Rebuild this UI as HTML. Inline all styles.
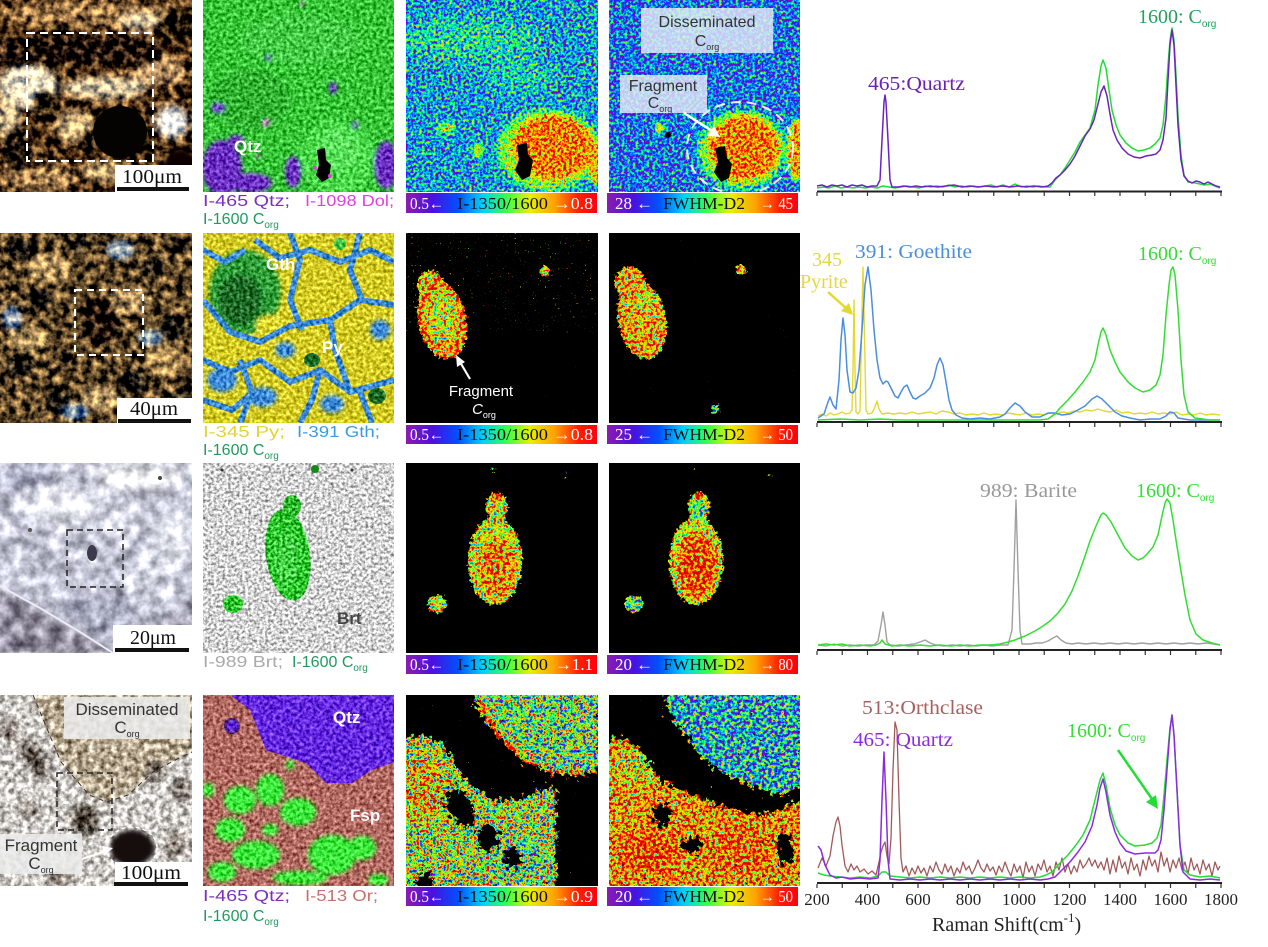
<!DOCTYPE html>
<html><head><meta charset="utf-8"><title>Raman maps</title>
<style>html,body{margin:0;padding:0;background:#fff;width:1268px;height:947px;overflow:hidden}svg{display:block}</style>
</head><body>
<svg width="1268" height="947" viewBox="0 0 1268 947" xmlns="http://www.w3.org/2000/svg">
<defs>
 <clipPath id="c11"><rect x="0" y="0" width="192" height="192"/></clipPath>
 <clipPath id="c12"><rect x="203" y="0" width="191" height="192"/></clipPath>
 <clipPath id="c13"><rect x="406" y="0" width="192" height="192"/></clipPath>
 <clipPath id="c14"><rect x="609" y="0" width="191" height="192"/></clipPath>
 <clipPath id="c21"><rect x="0" y="233" width="192" height="190"/></clipPath>
 <clipPath id="c22"><rect x="203" y="233" width="191" height="190"/></clipPath>
 <clipPath id="c23"><rect x="406" y="233" width="192" height="190"/></clipPath>
 <clipPath id="c24"><rect x="609" y="233" width="191" height="190"/></clipPath>
 <clipPath id="c31"><rect x="0" y="463" width="192" height="190"/></clipPath>
 <clipPath id="c32"><rect x="203" y="463" width="191" height="190"/></clipPath>
 <clipPath id="c33"><rect x="406" y="463" width="192" height="190"/></clipPath>
 <clipPath id="c34"><rect x="609" y="463" width="191" height="190"/></clipPath>
 <clipPath id="c41"><rect x="0" y="695" width="192" height="191"/></clipPath>
 <clipPath id="c42"><rect x="203" y="695" width="191" height="191"/></clipPath>
 <clipPath id="c43"><rect x="406" y="695" width="192" height="191"/></clipPath>
 <clipPath id="c44"><rect x="609" y="695" width="191" height="191"/></clipPath>

 <linearGradient id="cb" x1="0" y1="0" x2="1" y2="0">
  <stop offset="0" stop-color="#8a1cb0"/>
  <stop offset="0.14" stop-color="#4a10e0"/>
  <stop offset="0.27" stop-color="#0050ff"/>
  <stop offset="0.4" stop-color="#00d0ff"/>
  <stop offset="0.52" stop-color="#30ff50"/>
  <stop offset="0.65" stop-color="#e8f000"/>
  <stop offset="0.78" stop-color="#ffa000"/>
  <stop offset="0.9" stop-color="#ff2000"/>
  <stop offset="1" stop-color="#ff0010"/>
 </linearGradient>

 <filter id="b2" x="-50%" y="-50%" width="200%" height="200%"><feGaussianBlur stdDeviation="2"/></filter>
 <filter id="b4" x="-50%" y="-50%" width="200%" height="200%"><feGaussianBlur stdDeviation="4"/></filter>
 <filter id="b7" x="-50%" y="-50%" width="200%" height="200%"><feGaussianBlur stdDeviation="7"/></filter>

 <filter id="motBr" x="0" y="0" width="1" height="1" color-interpolation-filters="sRGB">
  <feTurbulence type="fractalNoise" baseFrequency="0.13" numOctaves="3" seed="3" result="n"/>
  <feColorMatrix in="n" type="matrix" values="1 0 0 0 0  0.8 0 0 0 0.1  0.5 0 0 0 0.25  0 0 0 0 1" result="g"/>
  <feComposite in="SourceGraphic" in2="g" operator="arithmetic" k1="0" k2="1" k3="1.9" k4="-0.95"/>
 </filter>
 <filter id="motB" x="0" y="0" width="1" height="1" color-interpolation-filters="sRGB">
  <feTurbulence type="fractalNoise" baseFrequency="0.3" numOctaves="2" seed="5" result="n"/>
  <feColorMatrix in="n" type="matrix" values="1 0 0 0 0  1 0 0 0 0  1 0 0 0 0  0 0 0 0 1" result="g"/>
  <feComposite in="SourceGraphic" in2="g" operator="arithmetic" k1="0" k2="1" k3="0.9" k4="-0.45"/>
 </filter>
 <filter id="motC" x="0" y="0" width="1" height="1" color-interpolation-filters="sRGB">
  <feTurbulence type="fractalNoise" baseFrequency="0.08" numOctaves="4" seed="8" result="n"/>
  <feColorMatrix in="n" type="matrix" values="1 0 0 0 0  1 0 0 0 0  1 0 0 0 0  0 0 0 0 1" result="g"/>
  <feComposite in="SourceGraphic" in2="g" operator="arithmetic" k1="0" k2="1" k3="0.9" k4="-0.45"/>
 </filter>
 <filter id="motD" x="0" y="0" width="1" height="1" color-interpolation-filters="sRGB">
  <feTurbulence type="fractalNoise" baseFrequency="0.35" numOctaves="2" seed="11" result="n"/>
  <feColorMatrix in="n" type="matrix" values="1 0 0 0 0  1 0 0 0 0  1 0 0 0 0  0 0 0 0 1" result="g"/>
  <feComposite in="SourceGraphic" in2="g" operator="arithmetic" k1="0" k2="1" k3="1.3" k4="-0.65"/>
 </filter>
 <filter id="motE" x="0" y="0" width="1" height="1" color-interpolation-filters="sRGB">
  <feTurbulence type="fractalNoise" baseFrequency="0.18" numOctaves="3" seed="14" result="n"/>
  <feColorMatrix in="n" type="matrix" values="1 0 0 0 0  1 0 0 0 0  1 0 0 0 0  0 0 0 0 1" result="g"/>
  <feComposite in="SourceGraphic" in2="g" operator="arithmetic" k1="0" k2="1" k3="1.3" k4="-0.65"/>
 </filter>

 <filter id="rbA" x="0" y="0" width="1" height="1" color-interpolation-filters="sRGB">
  <feTurbulence type="fractalNoise" baseFrequency="0.36" numOctaves="2" seed="4" result="n"/>
  <feColorMatrix in="n" type="matrix" values="1 0 0 0 0  1 0 0 0 0  1 0 0 0 0  0 0 0 0 1" result="g"/>
  <feComposite in="SourceGraphic" in2="g" operator="arithmetic" k1="0" k2="1" k3="1.2" k4="-0.6" result="v"/>
  <feComponentTransfer in="v">
   <feFuncR type="table" tableValues="0.55 0.1 0 0 0.4 1 1 1 0.85"/>
   <feFuncG type="table" tableValues="0 0.1 0.6 1 1 1 0.55 0.1 0"/>
   <feFuncB type="table" tableValues="0.75 1 1 0.6 0.05 0 0 0 0"/>
   <feFuncA type="linear" slope="0" intercept="1"/>
  </feComponentTransfer>
 </filter>
 <filter id="rbC" x="0" y="0" width="1" height="1" color-interpolation-filters="sRGB">
  <feTurbulence type="fractalNoise" baseFrequency="0.32" numOctaves="2" seed="12" result="n"/>
  <feColorMatrix in="n" type="matrix" values="1 0 0 0 0  1 0 0 0 0  1 0 0 0 0  0 0 0 0 1" result="g"/>
  <feComposite in="SourceGraphic" in2="g" operator="arithmetic" k1="0" k2="1" k3="1.6" k4="-0.8" result="v"/>
  <feComponentTransfer in="v">
   <feFuncR type="table" tableValues="0.55 0.1 0 0 0.4 1 1 1 0.85"/>
   <feFuncG type="table" tableValues="0 0.1 0.6 1 1 1 0.55 0.1 0"/>
   <feFuncB type="table" tableValues="0.75 1 1 0.6 0.05 0 0 0 0"/>
   <feFuncA type="linear" slope="0" intercept="1"/>
  </feComponentTransfer>
 </filter>
 <filter id="rbB" x="0" y="0" width="1" height="1" color-interpolation-filters="sRGB">
  <feTurbulence type="fractalNoise" baseFrequency="0.3" numOctaves="3" seed="6" result="n"/>
  <feColorMatrix in="n" type="matrix" values="1 0 0 0 0  1 0 0 0 0  1 0 0 0 0  0 0 0 0 1" result="g"/>
  <feComposite in="SourceGraphic" in2="g" operator="arithmetic" k1="0" k2="1" k3="2.0" k4="-1.0" result="v"/>
  <feComponentTransfer in="v">
   <feFuncR type="table" tableValues="0.55 0.1 0 0 0.4 1 1 1 0.85"/>
   <feFuncG type="table" tableValues="0 0.1 0.6 1 1 1 0.55 0.1 0"/>
   <feFuncB type="table" tableValues="0.75 1 1 0.6 0.05 0 0 0 0"/>
   <feFuncA type="linear" slope="0" intercept="1"/>
  </feComponentTransfer>
 </filter>

 <filter id="rag" x="0" y="0" width="1" height="1" color-interpolation-filters="sRGB">
  <feGaussianBlur in="SourceGraphic" stdDeviation="3" result="b"/>
  <feTurbulence type="fractalNoise" baseFrequency="0.35" numOctaves="2" seed="9" result="n"/>
  <feColorMatrix in="n" type="matrix" values="1 0 0 0 0  1 0 0 0 0  1 0 0 0 0  0 0 0 0 1" result="g"/>
  <feComposite in="b" in2="g" operator="arithmetic" k1="0" k2="1" k3="1" k4="-0.5" result="c"/>
  <feComponentTransfer in="c">
   <feFuncR type="discrete" tableValues="0 1"/>
   <feFuncG type="discrete" tableValues="0 1"/>
   <feFuncB type="discrete" tableValues="0 1"/>
   <feFuncA type="linear" slope="0" intercept="1"/>
  </feComponentTransfer>
 </filter>
 <filter id="rag2" x="0" y="0" width="1" height="1" color-interpolation-filters="sRGB">
  <feGaussianBlur in="SourceGraphic" stdDeviation="5" result="b"/>
  <feTurbulence type="fractalNoise" baseFrequency="0.2" numOctaves="3" seed="19" result="n"/>
  <feColorMatrix in="n" type="matrix" values="1 0 0 0 0  1 0 0 0 0  1 0 0 0 0  0 0 0 0 1" result="g"/>
  <feComposite in="b" in2="g" operator="arithmetic" k1="0" k2="1" k3="1.4" k4="-0.7" result="c"/>
  <feComponentTransfer in="c">
   <feFuncR type="discrete" tableValues="0 1"/>
   <feFuncG type="discrete" tableValues="0 1"/>
   <feFuncB type="discrete" tableValues="0 1"/>
   <feFuncA type="linear" slope="0" intercept="1"/>
  </feComponentTransfer>
 </filter>
 <filter id="dots" x="0" y="0" width="1" height="1" color-interpolation-filters="sRGB">
  <feTurbulence type="fractalNoise" baseFrequency="0.6" numOctaves="1" seed="21"/>
  <feColorMatrix type="matrix" values="0 0 0 0 1  0 0 0 0 1  0 0 0 0 1  14 0 0 0 -9.8"/>
 </filter>
 <filter id="dots2" x="0" y="0" width="1" height="1" color-interpolation-filters="sRGB">
  <feTurbulence type="fractalNoise" baseFrequency="0.6" numOctaves="1" seed="33"/>
  <feColorMatrix type="matrix" values="0 0 0 0 1  0 0 0 0 1  0 0 0 0 1  14 0 0 0 -10.6"/>
 </filter>
 <filter id="dots3" x="0" y="0" width="1" height="1" color-interpolation-filters="sRGB">
  <feTurbulence type="fractalNoise" baseFrequency="0.6" numOctaves="1" seed="47"/>
  <feColorMatrix type="matrix" values="0 0 0 0 1  0 0 0 0 1  0 0 0 0 1  14 0 0 0 -11.2"/>
 </filter>
 <filter id="holes" x="0" y="0" width="1" height="1" color-interpolation-filters="sRGB">
  <feTurbulence type="fractalNoise" baseFrequency="0.45" numOctaves="1" seed="41"/>
  <feColorMatrix type="matrix" values="0 0 0 0 0  0 0 0 0 0  0 0 0 0 0  -14 0 0 0 4.4"/>
 </filter>

 <!-- masks for black-background maps -->
 <mask id="m23" maskUnits="userSpaceOnUse" x="406" y="233" width="192" height="190">
  <g filter="url(#rag)">
   <rect x="406" y="233" width="192" height="190" fill="#000"/>
   <ellipse cx="442" cy="320" rx="24" ry="40" transform="rotate(-12 442 320)" fill="#fff"/>
   <ellipse cx="430" cy="285" rx="13" ry="15" fill="#fff"/>
   <ellipse cx="545" cy="271" rx="6" ry="6" fill="#fff"/>
  </g>
  <rect x="406" y="233" width="192" height="100" fill="#fff" filter="url(#dots)"/>
  <rect x="406" y="333" width="192" height="90" fill="#fff" filter="url(#dots3)"/>
 </mask>
 <mask id="m24" maskUnits="userSpaceOnUse" x="609" y="233" width="191" height="190">
  <g filter="url(#rag)">
   <rect x="609" y="233" width="191" height="190" fill="#000"/>
   <ellipse cx="642" cy="320" rx="24" ry="40" transform="rotate(-10 642 320)" fill="#fff"/>
   <ellipse cx="630" cy="282" rx="15" ry="16" fill="#fff"/>
   <ellipse cx="741" cy="270" rx="6" ry="6" fill="#fff"/>
   <ellipse cx="715" cy="409" rx="5" ry="5" fill="#fff"/>
  </g>
  <rect x="609" y="233" width="191" height="190" fill="#fff" filter="url(#dots3)"/>
 </mask>
 <mask id="m33" maskUnits="userSpaceOnUse" x="406" y="463" width="192" height="190">
  <g filter="url(#rag)">
   <rect x="406" y="463" width="192" height="190" fill="#000"/>
   <ellipse cx="497" cy="506" rx="11" ry="14" fill="#fff"/>
   <ellipse cx="495" cy="561" rx="27" ry="44" fill="#fff"/>
   <ellipse cx="437" cy="604" rx="10" ry="9" fill="#fff"/>
   <circle cx="493" cy="469" r="3" fill="#fff"/>
   <circle cx="566" cy="476" r="3" fill="#fff"/>
  </g>
 </mask>
 <mask id="m34" maskUnits="userSpaceOnUse" x="609" y="463" width="191" height="190">
  <g filter="url(#rag)">
   <rect x="609" y="463" width="191" height="190" fill="#000"/>
   <ellipse cx="699" cy="506" rx="11" ry="14" fill="#fff"/>
   <ellipse cx="696" cy="561" rx="27" ry="44" fill="#fff"/>
   <ellipse cx="634" cy="604" rx="10" ry="9" fill="#fff"/>
   <circle cx="694" cy="469" r="3" fill="#fff"/>
   <circle cx="769" cy="476" r="3" fill="#fff"/>
  </g>
 </mask>
 <mask id="m43" maskUnits="userSpaceOnUse" x="406" y="695" width="192" height="191">
  <g filter="url(#rag2)">
   <rect x="406" y="695" width="192" height="191" fill="#000"/>
   <path d="M470,690 L600,690 L600,772 L575,776 L550,772 L525,762 L505,745 L490,725 L475,705 Z" fill="#fff"/>
   <path d="M400,738 L425,735 L445,745 L455,765 L470,785 L495,800 L520,800 L540,790 L556,785 L556,890 L400,890 Z" fill="#fff"/>
   <ellipse cx="460" cy="808" rx="12" ry="22" transform="rotate(-30 460 808)" fill="#000"/>
   <ellipse cx="488" cy="838" rx="11" ry="14" fill="#000"/>
   <ellipse cx="512" cy="858" rx="9" ry="11" fill="#000"/>
   <ellipse cx="425" cy="880" rx="9" ry="9" fill="#000"/>
  </g>
  <rect x="406" y="695" width="192" height="191" fill="#fff" filter="url(#dots3)"/>
  <rect x="406" y="695" width="192" height="191" fill="#000" filter="url(#holes)"/>
 </mask>
 <mask id="m44" maskUnits="userSpaceOnUse" x="609" y="695" width="191" height="191">
  <g filter="url(#rag2)">
   <rect x="609" y="695" width="191" height="191" fill="#000"/>
   <path d="M662,690 L805,690 L805,785 L780,795 L760,790 L735,778 L715,770 L700,755 L685,735 L670,715 Z" fill="#fff"/>
   <path d="M603,740 L625,738 L645,755 L660,780 L690,795 L720,805 L745,812 L770,815 L790,805 L805,800 L805,890 L603,890 Z" fill="#fff"/>
   <ellipse cx="662" cy="815" rx="10" ry="13" fill="#000"/>
   <ellipse cx="692" cy="845" rx="13" ry="8" fill="#000"/>
   <ellipse cx="785" cy="848" rx="8" ry="18" fill="#000"/>
  </g>
  <rect x="609" y="695" width="191" height="191" fill="#fff" filter="url(#dots3)"/>
  <rect x="609" y="695" width="191" height="191" fill="#000" filter="url(#holes)"/>
 </mask>
</defs>

<rect x="0" y="0" width="1268" height="947" fill="#fff"/>

<!-- ================= ROW 1 ================= -->
<!-- P11 micrograph -->
<g clip-path="url(#c11)">
 <g filter="url(#motBr)">
  <rect x="0" y="0" width="192" height="192" fill="#4a2e14"/>
  <g filter="url(#b4)">
   <ellipse cx="95" cy="14" rx="90" ry="14" fill="#a07848"/>
   <ellipse cx="28" cy="86" rx="30" ry="22" fill="#f2e0c0"/>
   <ellipse cx="105" cy="88" rx="42" ry="11" fill="#e6cea4"/>
   <ellipse cx="160" cy="72" rx="28" ry="14" fill="#b89062"/>
   <ellipse cx="75" cy="126" rx="20" ry="16" fill="#c8a878"/>
   <ellipse cx="172" cy="122" rx="16" ry="16" fill="#fffaf0"/>
   <ellipse cx="40" cy="178" rx="40" ry="14" fill="#9a7448"/>
   <ellipse cx="105" cy="172" rx="22" ry="10" fill="#c0a070"/>
   <ellipse cx="8" cy="118" rx="12" ry="22" fill="#d8bc90"/>
   <ellipse cx="140" cy="22" rx="20" ry="8" fill="#e0c8a0"/>
  </g>
  <g filter="url(#b2)">
   <path d="M0,44 C40,34 100,37 160,43 L165,59 C110,64 50,66 0,62 Z" fill="#0c0602"/>
   <ellipse cx="45" cy="105" rx="12" ry="14" fill="#140a04"/>
   <ellipse cx="18" cy="150" rx="16" ry="22" fill="#24140a"/>
   <ellipse cx="178" cy="25" rx="18" ry="16" fill="#140a04"/>
   <ellipse cx="150" cy="146" rx="8" ry="8" fill="#1a0e06"/>
   <ellipse cx="90" cy="142" rx="8" ry="12" fill="#24160a"/>
   <ellipse cx="60" cy="28" rx="10" ry="6" fill="#1a0e06"/>
  </g>
 </g>
 <ellipse cx="181" cy="176" rx="20" ry="26" fill="#0a0502" filter="url(#b2)"/>
 <ellipse cx="120" cy="132" rx="27" ry="26" fill="#050302"/>
</g>
<rect x="27" y="33" width="126" height="128" fill="none" stroke="#fff" stroke-width="2" stroke-dasharray="8 5"/>
<rect x="115" y="165" width="77" height="27" fill="#fff"/>
<text x="122" y="183" font-family="Liberation Serif, serif" font-size="20" fill="#111" textLength="60" lengthAdjust="spacingAndGlyphs">100μm</text>
<rect x="117" y="187" width="72" height="4" fill="#111"/>

<!-- P12 -->
<g clip-path="url(#c12)">
 <g filter="url(#motB)">
  <rect x="203" y="0" width="191" height="192" fill="#38c238"/>
  <g filter="url(#b2)">
   <ellipse cx="300" cy="40" rx="60" ry="25" fill="#44c844"/>
   <ellipse cx="250" cy="100" rx="40" ry="30" fill="#32b032"/>
   <circle cx="338" cy="158" r="38" fill="#4cd84c"/>
   <circle cx="338" cy="150" r="22" fill="#5ae05a"/>
   <ellipse cx="222" cy="168" rx="20" ry="28" fill="#6a2ec0"/>
   <ellipse cx="250" cy="183" rx="22" ry="10" fill="#6a2ec0"/>
   <ellipse cx="293" cy="172" rx="8" ry="16" fill="#6a2ec0"/>
   <ellipse cx="386" cy="165" rx="12" ry="24" fill="#6a2ec0"/>
   <ellipse cx="218" cy="108" rx="7" ry="5" fill="#6a2ec0"/>
   <ellipse cx="236" cy="140" rx="8" ry="5" fill="#6a2ec0"/>
   <ellipse cx="333" cy="88" rx="4" ry="6" fill="#6a2ec0"/>
   <ellipse cx="268" cy="58" rx="3" ry="3" fill="#6a2ec0"/>
   <ellipse cx="355" cy="125" rx="3" ry="4" fill="#6a2ec0"/>
   <circle cx="266" cy="123" r="3" fill="#e040e0"/>
   <circle cx="258" cy="156" r="2" fill="#e040e0"/>
   <circle cx="302" cy="4" r="2" fill="#e040e0"/>
  </g>
 </g>
 <polygon points="317,150 325,148 326,160 331,165 329,178 322,182 316,175 319,165" fill="#000"/>
 <circle cx="315" cy="168" r="2" fill="#e040e0"/>
 <circle cx="330" cy="176" r="2" fill="#e040e0"/>
</g>
<text x="234" y="152" font-family="Liberation Sans, sans-serif" font-size="17" font-weight="bold" fill="#fff">Qtz</text>

<!-- P13 -->
<g clip-path="url(#c13)">
 <g filter="url(#rbA)">
  <rect x="406" y="0" width="192" height="192" fill="#424242"/>
  <ellipse cx="470" cy="40" rx="70" ry="22" fill="#5a5a5a" filter="url(#b7)"/>
  <ellipse cx="520" cy="75" rx="35" ry="18" fill="#545454" filter="url(#b7)"/>
  <ellipse cx="548" cy="150" rx="50" ry="40" fill="#8c8c8c" filter="url(#b4)"/>
  <ellipse cx="553" cy="147" rx="40" ry="32" fill="#c6c6c6" filter="url(#b2)"/>
  <ellipse cx="595" cy="160" rx="8" ry="24" fill="#b3b3b3" filter="url(#b2)"/>
  <ellipse cx="446" cy="128" rx="8" ry="5" fill="#a6a6a6" filter="url(#b2)"/>
  <ellipse cx="478" cy="150" rx="6" ry="6" fill="#999" filter="url(#b2)"/>
 </g>
 <polygon points="517,145 527,143 528,155 533,160 530,176 522,180 515,170 519,160" fill="#000"/>
</g>

<!-- P14 -->
<g clip-path="url(#c14)">
 <g filter="url(#rbA)">
  <rect x="609" y="0" width="191" height="192" fill="#353535"/>
  <ellipse cx="742" cy="150" rx="43" ry="39" fill="#8c8c8c" filter="url(#b4)"/>
  <ellipse cx="744" cy="148" rx="35" ry="32" fill="#c6c6c6" filter="url(#b2)"/>
  <ellipse cx="797" cy="150" rx="10" ry="30" fill="#bdbdbd" filter="url(#b2)"/>
  <ellipse cx="660" cy="128" rx="5" ry="5" fill="#a6a6a6" filter="url(#b2)"/>
  <ellipse cx="690" cy="20" rx="25" ry="12" fill="#505050" filter="url(#b4)"/>
 </g>
 <polygon points="715,148 725,146 727,158 732,164 729,178 721,182 714,172 718,162" fill="#000"/>
 <circle cx="668" cy="135" r="3" fill="#000"/>
 <ellipse cx="740" cy="148" rx="53" ry="46" fill="none" stroke="#fff" stroke-width="2" stroke-dasharray="10 6" opacity="0.9"/>
</g>
<rect x="641" y="8" width="132" height="45" fill="#e6ecf8" opacity="0.82"/>
<text x="707" y="27" text-anchor="middle" font-family="Liberation Sans, sans-serif" font-size="16" fill="#333">Disseminated</text>
<text x="707" y="46" text-anchor="middle" font-family="Liberation Sans, sans-serif" font-size="16" fill="#333">C<tspan font-size="9" dy="4">org</tspan></text>
<rect x="620" y="75" width="87" height="38" fill="#e6ecf8" opacity="0.82"/>
<text x="663" y="91" text-anchor="middle" font-family="Liberation Sans, sans-serif" font-size="16" fill="#333">Fragment</text>
<text x="660" y="108" text-anchor="middle" font-family="Liberation Sans, sans-serif" font-size="16" fill="#333">C<tspan font-size="9" dy="4">org</tspan></text>
<line x1="684" y1="113" x2="712" y2="131" stroke="#fff" stroke-width="2.5"/>
<polygon points="720,137 707,136 714,126" fill="#fff"/>

<!-- ================= ROW 2 ================= -->
<!-- P21 -->
<g clip-path="url(#c21)">
 <g filter="url(#motBr)">
  <rect x="0" y="233" width="192" height="190" fill="#5c4628"/>
  <g filter="url(#b2)">
   <ellipse cx="50" cy="268" rx="22" ry="15" fill="#b89460"/>
   <ellipse cx="130" cy="300" rx="20" ry="14" fill="#ac8c5c"/>
   <ellipse cx="165" cy="360" rx="18" ry="16" fill="#b49058"/>
   <ellipse cx="30" cy="340" rx="18" ry="14" fill="#a88a58"/>
   <ellipse cx="100" cy="398" rx="20" ry="12" fill="#b09060"/>
   <ellipse cx="120" cy="250" rx="14" ry="10" fill="#7a8ea0"/>
   <ellipse cx="12" cy="318" rx="10" ry="12" fill="#7488a0"/>
   <ellipse cx="150" cy="338" rx="12" ry="8" fill="#7890a4"/>
   <ellipse cx="75" cy="412" rx="14" ry="8" fill="#708aa0"/>
   <ellipse cx="22" cy="250" rx="15" ry="10" fill="#0c0a08"/>
   <ellipse cx="78" cy="245" rx="10" ry="8" fill="#0c0a08"/>
   <ellipse cx="152" cy="268" rx="12" ry="9" fill="#0e0c08"/>
   <ellipse cx="40" cy="300" rx="12" ry="10" fill="#0e0c08"/>
   <ellipse cx="100" cy="320" rx="18" ry="24" fill="#080604"/>
   <ellipse cx="172" cy="328" rx="12" ry="14" fill="#0c0a08"/>
   <ellipse cx="20" cy="365" rx="14" ry="12" fill="#0c0a08"/>
   <ellipse cx="132" cy="382" rx="14" ry="12" fill="#0c0a08"/>
   <ellipse cx="58" cy="400" rx="12" ry="10" fill="#0c0a08"/>
   <ellipse cx="182" cy="402" rx="12" ry="12" fill="#0c0a08"/>
   <ellipse cx="68" cy="360" rx="9" ry="8" fill="#1a140e"/>
   <ellipse cx="180" cy="245" rx="10" ry="8" fill="#1a140e"/>
  </g>
 </g>
</g>
<rect x="75" y="290" width="68" height="65" fill="none" stroke="#fff" stroke-width="2" stroke-dasharray="7 5"/>
<rect x="117" y="398" width="75" height="25" fill="#fff"/>
<text x="130" y="415" font-family="Liberation Serif, serif" font-size="20" fill="#111" textLength="48" lengthAdjust="spacingAndGlyphs">40μm</text>
<rect x="118" y="419" width="73" height="4" fill="#111"/>

<!-- P22 -->
<g clip-path="url(#c22)">
 <g filter="url(#motB)">
  <rect x="203" y="233" width="191" height="190" fill="#d4ca26"/>
  <g filter="url(#b2)">
   <ellipse cx="245" cy="292" rx="36" ry="42" fill="#2e9a38"/>
   <ellipse cx="240" cy="300" rx="22" ry="26" fill="#1c6a26"/>
   <ellipse cx="270" cy="325" rx="14" ry="10" fill="#e0d830"/>
  </g>
  <g fill="none" stroke="#3a88d6" stroke-width="6" stroke-linejoin="round">
   <polyline points="203,300 230,332 260,342 290,326 330,320 360,300 394,305"/>
   <polyline points="255,240 280,258 310,250 340,262 370,250 394,262"/>
   <polyline points="290,233 300,260 290,300 302,330"/>
   <polyline points="360,233 350,270 362,300"/>
   <polyline points="203,360 230,372 260,360 290,382 320,370 350,392 394,380"/>
   <polyline points="240,423 252,392 240,360"/>
   <polyline points="300,423 312,400 320,370"/>
   <polyline points="203,400 232,410 250,395"/>
   <polyline points="372,423 360,392"/>
   <polyline points="203,250 225,262 245,250"/>
   <polyline points="330,320 335,350 350,392"/>
  </g>
  <g fill="#3a88d6" filter="url(#b2)">
   <ellipse cx="222" cy="380" rx="15" ry="12"/>
   <ellipse cx="262" cy="397" rx="15" ry="10"/>
   <ellipse cx="332" cy="404" rx="12" ry="9"/>
   <ellipse cx="285" cy="350" rx="10" ry="8"/>
   <ellipse cx="380" cy="330" rx="10" ry="10"/>
  </g>
  <circle cx="340" cy="244" r="6" fill="#40c040"/>
  <ellipse cx="312" cy="360" rx="8" ry="7" fill="#1a6a26"/>
  <ellipse cx="377" cy="396" rx="9" ry="8" fill="#1a6a26"/>
 </g>
</g>
<text x="266" y="270" font-family="Liberation Sans, sans-serif" font-size="17" font-weight="bold" fill="#fff">Gth</text>
<text x="322" y="353" font-family="Liberation Sans, sans-serif" font-size="17" font-weight="bold" fill="#fff">Py</text>

<!-- P23 -->
<g clip-path="url(#c23)">
 <rect x="406" y="233" width="192" height="190" fill="#000"/>
 <g mask="url(#m23)">
  <g filter="url(#rbC)">
   <rect x="406" y="233" width="192" height="190" fill="#a6a6a6"/>
   <ellipse cx="442" cy="320" rx="26" ry="42" fill="#d0d0d0" filter="url(#b2)"/>
   <ellipse cx="442" cy="318" rx="17" ry="32" fill="#9a9a9a" filter="url(#b4)"/>
  </g>
 </g>
</g>
<text x="481" y="396" text-anchor="middle" font-family="Liberation Sans, sans-serif" font-size="15" fill="#fff">Fragment</text>
<text x="484" y="414" text-anchor="middle" font-family="Liberation Sans, sans-serif" font-size="15" font-style="italic" fill="#fff">C<tspan font-size="9" dy="4" font-style="normal">org</tspan></text>
<line x1="470" y1="379" x2="460" y2="362" stroke="#fff" stroke-width="2.2"/>
<polygon points="456,355 465,362 457,367" fill="#fff"/>

<!-- P24 -->
<g clip-path="url(#c24)">
 <rect x="609" y="233" width="191" height="190" fill="#000"/>
 <g mask="url(#m24)">
  <g filter="url(#rbC)">
   <rect x="609" y="233" width="191" height="190" fill="#b8b8b8"/>
   <ellipse cx="645" cy="300" rx="14" ry="14" fill="#a0a0a0" filter="url(#b4)"/>
   <circle cx="715" cy="409" r="6" fill="#707070"/>
  </g>
 </g>
</g>

<!-- ================= ROW 3 ================= -->
<!-- P31 -->
<g clip-path="url(#c31)">
 <g filter="url(#motC)">
  <rect x="0" y="463" width="192" height="190" fill="#c2c4d4"/>
  <g filter="url(#b7)">
   <ellipse cx="140" cy="476" rx="45" ry="14" fill="#f6f6fa"/>
   <ellipse cx="60" cy="505" rx="40" ry="24" fill="#e6e8f2"/>
   <ellipse cx="172" cy="540" rx="20" ry="30" fill="#e2e4ee"/>
   <ellipse cx="120" cy="520" rx="25" ry="15" fill="#dcdeea"/>
   <ellipse cx="28" cy="478" rx="28" ry="12" fill="#9ea0b6"/>
   <ellipse cx="100" cy="612" rx="40" ry="18" fill="#a6a8bc"/>
   <ellipse cx="150" cy="580" rx="30" ry="20" fill="#d6d8e4"/>
  </g>
  <path d="M0,588 L40,610 L80,634 L114,653 L0,653 Z" fill="#8e8a9a" filter="url(#b2)"/>
  <path d="M140,653 L160,625 L192,600 L192,653 Z" fill="#a8a6b6" filter="url(#b4)"/>
 </g>
 <polyline points="0,586 40,608 80,632 113,653" fill="none" stroke="#ececf4" stroke-width="2"/>
 <ellipse cx="92" cy="553" rx="5" ry="8" fill="#3c3a4a"/>
 <circle cx="160" cy="478" r="2" fill="#444"/>
 <circle cx="30" cy="530" r="2" fill="#555"/>
</g>
<rect x="67" y="530" width="56" height="57" fill="none" stroke="#222" stroke-width="1.5" stroke-dasharray="6 4"/>
<rect x="113" y="625" width="79" height="28" fill="#fff"/>
<text x="130" y="644" font-family="Liberation Serif, serif" font-size="20" fill="#111" textLength="46" lengthAdjust="spacingAndGlyphs">20μm</text>
<rect x="115" y="648" width="74" height="4" fill="#111"/>

<!-- P32 -->
<g clip-path="url(#c32)">
 <g filter="url(#motD)">
  <rect x="203" y="463" width="191" height="190" fill="#d6d6d6"/>
  <ellipse cx="288" cy="555" rx="22" ry="46" transform="rotate(-8 288 555)" fill="#2ec42e"/>
  <ellipse cx="292" cy="506" rx="9" ry="11" fill="#2ab82a"/>
  <ellipse cx="286" cy="560" rx="12" ry="25" fill="#44d044"/>
  <ellipse cx="233" cy="604" rx="10" ry="9" fill="#2ec42e"/>
 </g>
 <circle cx="315" cy="469" r="4" fill="#138a13"/>
 <circle cx="222" cy="470" r="1.5" fill="#333"/>
 <circle cx="352" cy="470" r="1.5" fill="#333"/>
</g>
<text x="337" y="624" font-family="Liberation Sans, sans-serif" font-size="17" font-weight="bold" fill="#454545">Brt</text>

<!-- P33 -->
<g clip-path="url(#c33)">
 <rect x="406" y="463" width="192" height="190" fill="#000"/>
 <g mask="url(#m33)">
  <g filter="url(#rbC)">
   <rect x="406" y="463" width="192" height="190" fill="#999"/>
   <ellipse cx="497" cy="568" rx="18" ry="30" fill="#c6c6c6" filter="url(#b4)"/>
   <circle cx="497" cy="496" r="5" fill="#d9d9d9"/>
  </g>
 </g>
</g>

<!-- P34 -->
<g clip-path="url(#c34)">
 <rect x="609" y="463" width="191" height="190" fill="#000"/>
 <g mask="url(#m34)">
  <g filter="url(#rbC)">
   <rect x="609" y="463" width="191" height="190" fill="#999"/>
   <ellipse cx="697" cy="565" rx="20" ry="32" fill="#dcdcdc" filter="url(#b4)"/>
   <ellipse cx="699" cy="510" rx="9" ry="10" fill="#707070" filter="url(#b2)"/>
   <circle cx="699" cy="496" r="4" fill="#d9d9d9"/>
   <circle cx="634" cy="604" r="8" fill="#707070"/>
  </g>
 </g>
</g>

<!-- ================= ROW 4 ================= -->
<!-- P41 -->
<g clip-path="url(#c41)">
 <g filter="url(#motE)">
  <rect x="0" y="695" width="192" height="191" fill="#d0ccc8"/>
  <path d="M33,695 L61,762 L89,795 L107,802 L128,795 L153,772 L179,758 L192,752 L192,695 Z" fill="#b6a890" filter="url(#b2)"/>
  <g filter="url(#b4)">
   <ellipse cx="35" cy="760" rx="10" ry="20" transform="rotate(-30 35 760)" fill="#5a5048"/>
   <ellipse cx="10" cy="730" rx="8" ry="14" fill="#8a8078"/>
   <ellipse cx="85" cy="820" rx="12" ry="16" fill="#3a3028"/>
   <ellipse cx="155" cy="770" rx="9" ry="10" fill="#6a6058"/>
   <ellipse cx="182" cy="790" rx="9" ry="12" fill="#6a6058"/>
   <ellipse cx="30" cy="810" rx="10" ry="8" fill="#8a8078"/>
   <ellipse cx="60" cy="880" rx="12" ry="8" fill="#7a7068"/>
   <ellipse cx="175" cy="845" rx="10" ry="14" fill="#8a8078"/>
  </g>
 </g>
 <ellipse cx="132" cy="848" rx="22" ry="18" fill="#141010" filter="url(#b2)"/>
 <ellipse cx="132" cy="848" rx="25" ry="21" fill="none" stroke="#fff" stroke-width="1.5" stroke-dasharray="4 3"/>
 <polyline points="33,695 61,762 89,795 107,802 128,795 153,772 179,758 192,752" fill="none" stroke="#333" stroke-width="1" stroke-dasharray="5 4"/>
</g>
<rect x="57" y="773" width="55" height="57" fill="none" stroke="#222" stroke-width="1.5" stroke-dasharray="6 4"/>
<rect x="64" y="697" width="126" height="42" fill="#ececec" opacity="0.88"/>
<text x="127" y="715" text-anchor="middle" font-family="Liberation Sans, sans-serif" font-size="17" fill="#333">Disseminated</text>
<text x="127" y="733" text-anchor="middle" font-family="Liberation Sans, sans-serif" font-size="17" fill="#333">C<tspan font-size="9" dy="4">org</tspan></text>
<rect x="0" y="834" width="82" height="40" fill="#ececec" opacity="0.88"/>
<text x="41" y="851" text-anchor="middle" font-family="Liberation Sans, sans-serif" font-size="17" fill="#333">Fragment</text>
<text x="41" y="869" text-anchor="middle" font-family="Liberation Sans, sans-serif" font-size="17" fill="#333">C<tspan font-size="9" dy="4">org</tspan></text>
<line x1="82" y1="859" x2="106" y2="851" stroke="#fff" stroke-width="2.2"/>
<polygon points="113,848 104,856 102,846" fill="#fff"/>
<rect x="115" y="862" width="77" height="24" fill="#fff"/>
<text x="121" y="879" font-family="Liberation Serif, serif" font-size="20" fill="#111" textLength="60" lengthAdjust="spacingAndGlyphs">100μm</text>
<rect x="114" y="882" width="74" height="4" fill="#111"/>

<!-- P42 -->
<g clip-path="url(#c42)">
 <g filter="url(#motB)">
  <rect x="203" y="695" width="191" height="191" fill="#b06a62"/>
  <path d="M224,690 L400,690 L400,760 L372,770 L352,783 L326,783 L306,763 L266,750 L250,710 Z" fill="#6428e0"/>
  <circle cx="232" cy="726" r="8" fill="#4a2088"/>
  <circle cx="232" cy="726" r="5" fill="#6428e0"/>
  <g fill="#3ae83a" filter="url(#b2)">
   <ellipse cx="240" cy="800" rx="16" ry="14"/>
   <ellipse cx="270" cy="790" rx="14" ry="16"/>
   <ellipse cx="298" cy="812" rx="18" ry="14"/>
   <ellipse cx="230" cy="830" rx="15" ry="12"/>
   <ellipse cx="256" cy="855" rx="24" ry="14"/>
   <ellipse cx="222" cy="872" rx="14" ry="10"/>
   <ellipse cx="332" cy="855" rx="24" ry="20"/>
   <ellipse cx="362" cy="848" rx="14" ry="12"/>
   <ellipse cx="300" cy="878" rx="28" ry="7"/>
   <ellipse cx="208" cy="790" rx="6" ry="7"/>
   <ellipse cx="290" cy="765" rx="4" ry="5"/>
   <ellipse cx="378" cy="880" rx="10" ry="6"/>
   <ellipse cx="270" cy="830" rx="8" ry="6"/>
  </g>
 </g>
</g>
<text x="333" y="723" font-family="Liberation Sans, sans-serif" font-size="17" font-weight="bold" fill="#fff">Qtz</text>
<text x="350" y="821" font-family="Liberation Sans, sans-serif" font-size="17" font-weight="bold" fill="#fff">Fsp</text>

<!-- P43 -->
<g clip-path="url(#c43)">
 <rect x="406" y="695" width="192" height="191" fill="#000"/>
 <g mask="url(#m43)">
  <g filter="url(#rbB)">
   <rect x="406" y="695" width="192" height="191" fill="#8a8a8a"/>
   <path d="M470,690 L600,690 L600,772 L575,776 L550,772 L525,762 L505,745 L490,725 L475,705 Z" fill="#747474" filter="url(#b2)"/>
   <polyline points="478,700 492,726 507,746 527,764 551,774 576,778 600,774" fill="none" stroke="#d9d9d9" stroke-width="7" filter="url(#b2)"/>
   <ellipse cx="425" cy="790" rx="22" ry="35" fill="#b0b0b0" filter="url(#b7)"/>
   <ellipse cx="520" cy="860" rx="28" ry="22" fill="#6a6a6a" filter="url(#b7)"/>
  </g>
 </g>
</g>

<!-- P44 -->
<g clip-path="url(#c44)">
 <rect x="609" y="695" width="191" height="191" fill="#000"/>
 <g mask="url(#m44)">
  <g filter="url(#rbC)">
   <rect x="609" y="695" width="191" height="191" fill="#bdbdbd"/>
   <path d="M662,690 L805,690 L805,785 L780,795 L760,790 L735,778 L715,770 L700,755 L685,735 L670,715 Z" fill="#4a4a4a" filter="url(#b2)"/>
   <ellipse cx="640" cy="765" rx="22" ry="20" fill="#999" filter="url(#b7)"/>
   <ellipse cx="650" cy="852" rx="30" ry="22" fill="#dadada" filter="url(#b7)"/>
   <ellipse cx="740" cy="850" rx="30" ry="25" fill="#cfcfcf" filter="url(#b7)"/>
  </g>
 </g>
</g>

<!-- ================= COLOR BARS ================= -->
<g font-family="Liberation Serif, DejaVu Serif, serif" font-size="17">
 <rect x="406" y="193" width="191" height="20" fill="url(#cb)"/>
 <text x="410" y="209" fill="#fff" textLength="34" lengthAdjust="spacingAndGlyphs">0.5←</text>
 <text x="457" y="209" fill="#111" textLength="91" lengthAdjust="spacingAndGlyphs">I-1350/1600</text>
 <text x="553" y="209" fill="#fff" textLength="40" lengthAdjust="spacingAndGlyphs">→0.8</text>
 <rect x="607" y="193" width="191" height="20" fill="url(#cb)"/>
 <text x="615" y="209" fill="#fff" textLength="38" lengthAdjust="spacingAndGlyphs">28 ←</text>
 <text x="663" y="209" fill="#111" textLength="82" lengthAdjust="spacingAndGlyphs">FWHM-D2</text>
 <text x="760" y="209" fill="#fff" textLength="33" lengthAdjust="spacingAndGlyphs">→ 45</text>

 <rect x="406" y="425" width="191" height="19" fill="url(#cb)"/>
 <text x="410" y="440" fill="#fff" textLength="34" lengthAdjust="spacingAndGlyphs">0.5←</text>
 <text x="457" y="440" fill="#111" textLength="91" lengthAdjust="spacingAndGlyphs">I-1350/1600</text>
 <text x="553" y="440" fill="#fff" textLength="40" lengthAdjust="spacingAndGlyphs">→0.8</text>
 <rect x="607" y="425" width="191" height="19" fill="url(#cb)"/>
 <text x="615" y="440" fill="#fff" textLength="38" lengthAdjust="spacingAndGlyphs">25 ←</text>
 <text x="663" y="440" fill="#111" textLength="82" lengthAdjust="spacingAndGlyphs">FWHM-D2</text>
 <text x="760" y="440" fill="#fff" textLength="33" lengthAdjust="spacingAndGlyphs">→ 50</text>

 <rect x="406" y="655" width="191" height="19" fill="url(#cb)"/>
 <text x="410" y="670" fill="#fff" textLength="34" lengthAdjust="spacingAndGlyphs">0.5←</text>
 <text x="457" y="670" fill="#111" textLength="91" lengthAdjust="spacingAndGlyphs">I-1350/1600</text>
 <text x="555" y="670" fill="#fff" textLength="38" lengthAdjust="spacingAndGlyphs">→1.1</text>
 <rect x="607" y="655" width="191" height="19" fill="url(#cb)"/>
 <text x="615" y="670" fill="#fff" textLength="38" lengthAdjust="spacingAndGlyphs">20 ←</text>
 <text x="663" y="670" fill="#111" textLength="82" lengthAdjust="spacingAndGlyphs">FWHM-D2</text>
 <text x="760" y="670" fill="#fff" textLength="33" lengthAdjust="spacingAndGlyphs">→ 80</text>

 <rect x="406" y="887" width="191" height="19" fill="url(#cb)"/>
 <text x="410" y="902" fill="#fff" textLength="34" lengthAdjust="spacingAndGlyphs">0.5←</text>
 <text x="457" y="902" fill="#111" textLength="91" lengthAdjust="spacingAndGlyphs">I-1350/1600</text>
 <text x="553" y="902" fill="#fff" textLength="40" lengthAdjust="spacingAndGlyphs">→0.9</text>
 <rect x="607" y="887" width="191" height="19" fill="url(#cb)"/>
 <text x="615" y="902" fill="#fff" textLength="38" lengthAdjust="spacingAndGlyphs">20 ←</text>
 <text x="663" y="902" fill="#111" textLength="82" lengthAdjust="spacingAndGlyphs">FWHM-D2</text>
 <text x="760" y="902" fill="#fff" textLength="33" lengthAdjust="spacingAndGlyphs">→ 50</text>
</g>

<!-- ================= COL2 LABELS ================= -->
<g font-family="Liberation Sans, sans-serif" font-size="16">
 <text x="203" y="206" fill="#7a2fbf" textLength="87" lengthAdjust="spacingAndGlyphs">I-465 Qtz;</text>
 <text x="305" y="206" fill="#e040e0" textLength="89" lengthAdjust="spacingAndGlyphs">I-1098 Dol;</text>
 <text x="203" y="224" fill="#1f9a60">I-1600 C<tspan font-size="10" dy="4">org</tspan></text>

 <text x="203" y="437" fill="#e2d432" textLength="82" lengthAdjust="spacingAndGlyphs">I-345 Py;</text>
 <text x="297" y="437" fill="#3a9ae0" textLength="83" lengthAdjust="spacingAndGlyphs">I-391 Gth;</text>
 <text x="203" y="455" fill="#1f9a60">I-1600 C<tspan font-size="10" dy="4">org</tspan></text>

 <text x="203" y="667" fill="#aaaaaa" textLength="80" lengthAdjust="spacingAndGlyphs">I-989 Brt;</text>
 <text x="292" y="667" fill="#1f9a60">I-1600 C<tspan font-size="10" dy="4">org</tspan></text>

 <text x="203" y="901" fill="#7a30c0" textLength="87" lengthAdjust="spacingAndGlyphs">I-465 Qtz;</text>
 <text x="305" y="901" fill="#c87070" textLength="73" lengthAdjust="spacingAndGlyphs">I-513 Or;</text>
 <text x="203" y="921" fill="#1f9a60">I-1600 C<tspan font-size="10" dy="4">org</tspan></text>
</g>

<!-- ================= SPECTRA ================= -->
<g fill="none" stroke-linejoin="round">
 <g stroke="#222">
  <line x1="817" y1="191.5" x2="1222" y2="191.5" stroke-width="2"/>
  <line x1="817" y1="422" x2="1222" y2="422" stroke-width="2"/>
  <line x1="817" y1="650" x2="1222" y2="650" stroke-width="2"/>
  <line x1="817" y1="883" x2="1222" y2="883" stroke-width="2"/>
 </g>
 <g stroke="#333" stroke-width="1.2">
  <path d="M817,192v4M842.25,192v4M867.5,192v4M892.75,192v4M918,192v4M943.25,192v4M968.5,192v4M993.75,192v4M1019,192v4M1044.25,192v4M1069.5,192v4M1094.75,192v4M1120,192v4M1145.25,192v4M1170.5,192v4M1195.75,192v4M1221,192v4"/>
  <path d="M817,423v4M842.25,423v4M867.5,423v4M892.75,423v4M918,423v4M943.25,423v4M968.5,423v4M993.75,423v4M1019,423v4M1044.25,423v4M1069.5,423v4M1094.75,423v4M1120,423v4M1145.25,423v4M1170.5,423v4M1195.75,423v4M1221,423v4"/>
  <path d="M817,651v4M842.25,651v4M867.5,651v4M892.75,651v4M918,651v4M943.25,651v4M968.5,651v4M993.75,651v4M1019,651v4M1044.25,651v4M1069.5,651v4M1094.75,651v4M1120,651v4M1145.25,651v4M1170.5,651v4M1195.75,651v4M1221,651v4"/>
  <path d="M817,884v4M842.25,884v4M867.5,884v4M892.75,884v4M918,884v4M943.25,884v4M968.5,884v4M993.75,884v4M1019,884v4M1044.25,884v4M1069.5,884v4M1094.75,884v4M1120,884v4M1145.25,884v4M1170.5,884v4M1195.75,884v4M1221,884v4"/>
 </g>

 <!-- Row 1 -->
 <polyline stroke="#22dd33" stroke-width="1.5" points="817,188 823,187 829,188 835,186 841,188 847,187 853,188 859,187 865,188 871,187 877,188 883,186 889,187 895,188 901,187 907,186 913,187 919,188 925,186 931,187 937,186 943,187 949,185 955,187 961,186 967,187 973,186 979,187 985,186 991,185 997,187 1003,185 1009,187 1015,184 1021,187 1027,186 1033,187 1039,186 1045,187 1050,187 1055,180 1060,175 1065,168 1070,160 1075,152 1080,142 1085,135 1090,128 1095,110 1098,85 1101,66 1103,60 1106,68 1109,90 1112,110 1116,125 1120,135 1126,143 1132,148 1138,151 1144,150 1150,148 1155,144 1160,138 1163,125 1166,95 1168,65 1170,40 1172,28 1174,40 1176,75 1178,115 1181,155 1184,175 1188,182 1195,183 1200,184 1205,185 1210,184 1215,186 1220,188"/>
 <polyline stroke="#6a22c0" stroke-width="1.5" points="817,186 822,185 827,187 832,185 837,186 842,185 847,187 852,185 857,186 862,185 867,187 872,186 877,186 880,180 882,140 884,102 885,95 886,102 888,140 890,180 892,187 898,187 904,186 910,187 916,186 922,187 930,186 938,187 946,186 954,185 962,187 970,186 978,187 986,186 994,187 1002,186 1010,187 1018,186 1026,187 1034,186 1042,187 1048,186 1052,183 1056,178 1060,175 1065,170 1070,164 1075,156 1080,146 1085,136 1090,129 1094,120 1098,104 1101,92 1104,86 1107,96 1110,114 1113,130 1117,140 1122,148 1128,154 1134,157 1140,158 1146,156 1152,155 1156,154 1160,150 1163,140 1166,118 1168,80 1170,45 1172,30 1174,45 1176,85 1178,125 1181,160 1184,176 1188,181 1192,183 1196,181 1200,182 1204,184 1208,182 1212,184 1216,186 1220,187"/>

 <!-- Row 2 -->
 <polyline stroke="#e4d830" stroke-width="1.4" points="818,416 822,414 826,416 830,413 834,415 838,414 842,412 846,414 850,413 852,410 853,370 854,300 855,370 856,412 858,414 860,411 861,360 863,267 865,360 866,410 868,414 872,413 875,407 877,401 879,409 882,414 888,413 894,414 900,413 906,414 912,412 918,414 924,413 930,412 936,414 942,411 948,412 954,414 960,413 966,415 972,414 978,415 984,413 990,415 996,414 1002,415 1008,413 1014,414 1020,415 1026,413 1032,415 1038,414 1044,415 1050,413 1056,414 1062,412 1068,413 1074,411 1080,412 1086,410 1092,411 1098,409 1104,411 1110,412 1116,410 1122,413 1128,412 1134,414 1140,413 1146,414 1152,412 1158,414 1164,413 1170,414 1176,412 1182,415 1188,414 1194,415 1200,413 1206,415 1212,414 1220,415"/>
 <polyline stroke="#4a8ee0" stroke-width="1.5" points="818,418 824,414 828,402 830,397 833,405 836,409 839,380 841,340 843,318 845,335 847,370 850,392 853,393 856,388 859,370 862,330 865,285 868,267 871,290 874,330 877,360 880,378 883,384 886,381 888,382 891,388 895,396 898,398 901,392 904,387 907,385 910,392 913,398 916,399 920,396 925,393 930,388 934,378 937,365 940,358 943,365 946,382 949,400 952,410 956,415 962,418 970,419 980,418 990,419 1000,417 1005,414 1010,408 1015,403 1020,406 1025,412 1032,417 1040,417 1048,413 1055,413 1062,415 1070,414 1078,410 1085,406 1092,399 1097,396 1102,399 1108,405 1115,412 1122,416 1130,418 1140,420 1150,419 1160,419 1166,416 1170,412 1174,413 1178,418 1190,420 1205,420 1220,420"/>
 <polyline stroke="#33dd33" stroke-width="1.5" points="818,420 840,419 860,420 880,419 900,420 940,420 980,420 1020,420 1040,420 1048,419 1055,414 1060,408 1068,400 1075,392 1083,382 1090,372 1095,360 1098,345 1101,332 1103,328 1106,335 1110,350 1115,362 1120,372 1128,382 1135,388 1143,392 1150,390 1156,385 1160,375 1163,355 1166,315 1169,285 1171,270 1173,267 1175,275 1178,310 1181,360 1184,395 1188,412 1195,418 1210,420 1220,420"/>

 <!-- Row 3 -->
 <polyline stroke="#a0a0a0" stroke-width="1.4" points="818,645 826,646 834,644 842,646 850,645 858,646 866,645 874,645 878,641 881,625 883,612 885,625 887,642 890,645 898,646 906,645 914,644 920,642 925,640 930,643 936,645 944,646 952,645 960,646 968,645 976,646 984,645 992,646 1000,645 1008,645 1012,630 1014,570 1016,500 1018,570 1020,630 1022,644 1030,644 1036,643 1042,643 1048,641 1053,638 1057,636 1061,640 1066,643 1072,644 1078,643 1086,644 1094,643 1102,644 1110,643 1118,644 1126,643 1134,644 1142,643 1150,644 1158,643 1166,644 1174,643 1182,644 1190,643 1198,644 1206,643 1214,644 1220,645"/>
 <polyline stroke="#33dd33" stroke-width="1.5" points="818,645 826,644 834,645 842,644 850,646 860,645 870,646 876,645 880,643 882,640 885,644 892,646 900,645 910,646 920,645 930,646 940,645 950,646 960,645 970,646 980,645 990,645 1000,644 1008,642 1015,640 1025,636 1035,631 1043,626 1050,621 1058,613 1065,604 1072,591 1078,576 1084,559 1090,541 1096,526 1101,515 1103,513 1106,515 1111,522 1118,535 1125,548 1132,556 1138,560 1143,558 1148,553 1153,547 1158,535 1162,516 1165,503 1167,499 1170,503 1173,520 1176,540 1180,565 1185,595 1190,620 1196,634 1203,640 1212,643 1220,645"/>

 <!-- Row 4 -->
 <polyline stroke="#a05a5a" stroke-width="1.3" points="818,868 822,858 826,866 830,856 833,836 836,822 838,817 840,826 842,845 845,866 848,872 851,864 854,870 857,866 860,872 864,869 868,874 872,871 876,875 879,862 881,852 883,846 885,842 887,856 889,864 891,838 893,770 895,722 897,730 899,800 901,858 903,872 906,866 909,876 912,868 915,874 918,866 921,873 924,868 927,876 930,866 933,872 936,862 939,870 942,874 945,864 948,872 951,866 954,876 957,868 960,873 963,862 966,870 969,866 972,874 975,868 978,860 981,868 984,872 987,864 990,871 993,867 996,875 999,866 1002,872 1005,862 1008,870 1011,876 1014,864 1017,872 1020,866 1023,878 1026,862 1029,872 1032,866 1035,876 1038,864 1041,870 1044,860 1047,872 1050,866 1053,876 1056,862 1059,870 1062,858 1065,872 1068,864 1071,874 1074,866 1077,872 1080,860 1083,868 1086,864 1089,858 1092,866 1095,860 1098,868 1101,862 1104,870 1107,858 1110,874 1113,860 1116,872 1119,856 1122,868 1125,862 1128,874 1131,858 1134,870 1137,864 1140,876 1143,860 1146,870 1149,856 1152,866 1155,860 1158,872 1161,852 1164,866 1167,858 1170,872 1173,860 1176,868 1179,858 1182,870 1185,862 1188,874 1191,858 1194,870 1197,864 1200,874 1203,860 1206,870 1209,864 1212,876 1215,862 1218,870 1220,866"/>
 <polyline stroke="#22dd33" stroke-width="1.5" points="818,873 824,875 830,876 840,877 850,878 860,877 870,878 878,876 882,872 886,872 890,876 900,877 910,878 920,877 930,878 940,877 950,878 960,877 970,878 980,877 990,878 1000,877 1010,878 1020,877 1030,878 1040,877 1046,875 1052,872 1060,863 1068,855 1076,845 1083,835 1090,820 1095,800 1100,780 1103,773 1106,785 1110,808 1115,825 1120,835 1128,843 1135,846 1145,845 1152,843 1157,838 1161,825 1164,795 1167,760 1170,728 1172,715 1174,735 1177,790 1180,845 1184,870 1190,875 1200,877 1210,876 1220,878"/>
 <polyline stroke="#8a2be2" stroke-width="1.5" points="818,846 821,850 825,865 830,875 836,878 842,877 850,879 860,878 870,879 878,878 880,860 882,800 884,752 886,800 888,860 890,879 900,880 910,879 920,880 930,879 940,880 950,879 960,880 970,879 980,880 990,879 1000,880 1010,879 1020,880 1030,879 1040,880 1048,879 1055,877 1062,870 1070,862 1078,852 1085,842 1092,826 1097,805 1100,788 1103,779 1106,792 1110,815 1115,832 1120,843 1126,851 1135,854 1145,853 1155,853 1158,850 1161,840 1164,810 1167,770 1170,730 1172,715 1174,735 1177,790 1180,845 1183,872 1190,879 1200,880 1210,879 1220,880"/>
 <line x1="828" y1="292" x2="847" y2="309" stroke="#e4d830" stroke-width="2.5"/>
 <line x1="1118" y1="750" x2="1152" y2="799" stroke="#22dd33" stroke-width="2.5"/>
</g>
<polygon points="853,315 841,311 849,303" fill="#e4d830"/>
<polygon points="1158,809 1146,802 1156,795" fill="#22dd33"/>

<g font-family="Liberation Serif, serif" font-size="20">
 <text x="868" y="90" fill="#6a22b0" textLength="97" lengthAdjust="spacingAndGlyphs">465:Quartz</text>
 <text x="1138" y="23" fill="#22a060">1600: C<tspan font-family="Liberation Sans, sans-serif" font-size="10" dy="4">org</tspan></text>

 <text x="855" y="258" fill="#4a8ee0" textLength="117" lengthAdjust="spacingAndGlyphs">391: Goethite</text>
 <text x="812" y="266" fill="#e4d840">345</text>
 <text x="800" y="288" fill="#e4d840">Pyrite</text>
 <text x="1138" y="260" fill="#33dd33">1600: C<tspan font-family="Liberation Sans, sans-serif" font-size="10" dy="4">org</tspan></text>

 <text x="980" y="497" fill="#999999" textLength="97" lengthAdjust="spacingAndGlyphs">989: Barite</text>
 <text x="1136" y="497" fill="#33dd33">1600: C<tspan font-family="Liberation Sans, sans-serif" font-size="10" dy="4">org</tspan></text>

 <text x="862" y="714" fill="#a86060" textLength="121" lengthAdjust="spacingAndGlyphs">513:Orthclase</text>
 <text x="853" y="746" fill="#8a2be2" textLength="100" lengthAdjust="spacingAndGlyphs">465: Quartz</text>
 <text x="1067" y="737" fill="#33dd33">1600: C<tspan font-family="Liberation Sans, sans-serif" font-size="10" dy="4">org</tspan></text>
</g>

<g font-family="Liberation Serif, serif" font-size="17" fill="#222" text-anchor="middle">
 <text x="817" y="905">200</text>
 <text x="867.5" y="905">400</text>
 <text x="918" y="905">600</text>
 <text x="968.5" y="905">800</text>
 <text x="1019" y="905">1000</text>
 <text x="1069.5" y="905">1200</text>
 <text x="1120" y="905">1400</text>
 <text x="1170.5" y="905">1600</text>
 <text x="1221" y="905">1800</text>
</g>
<text x="932" y="931" font-family="Liberation Serif, serif" font-size="20" fill="#222">Raman Shift(cm<tspan font-size="13" dy="-9">-1</tspan><tspan dy="9">)</tspan></text>
</svg>
</body></html>
